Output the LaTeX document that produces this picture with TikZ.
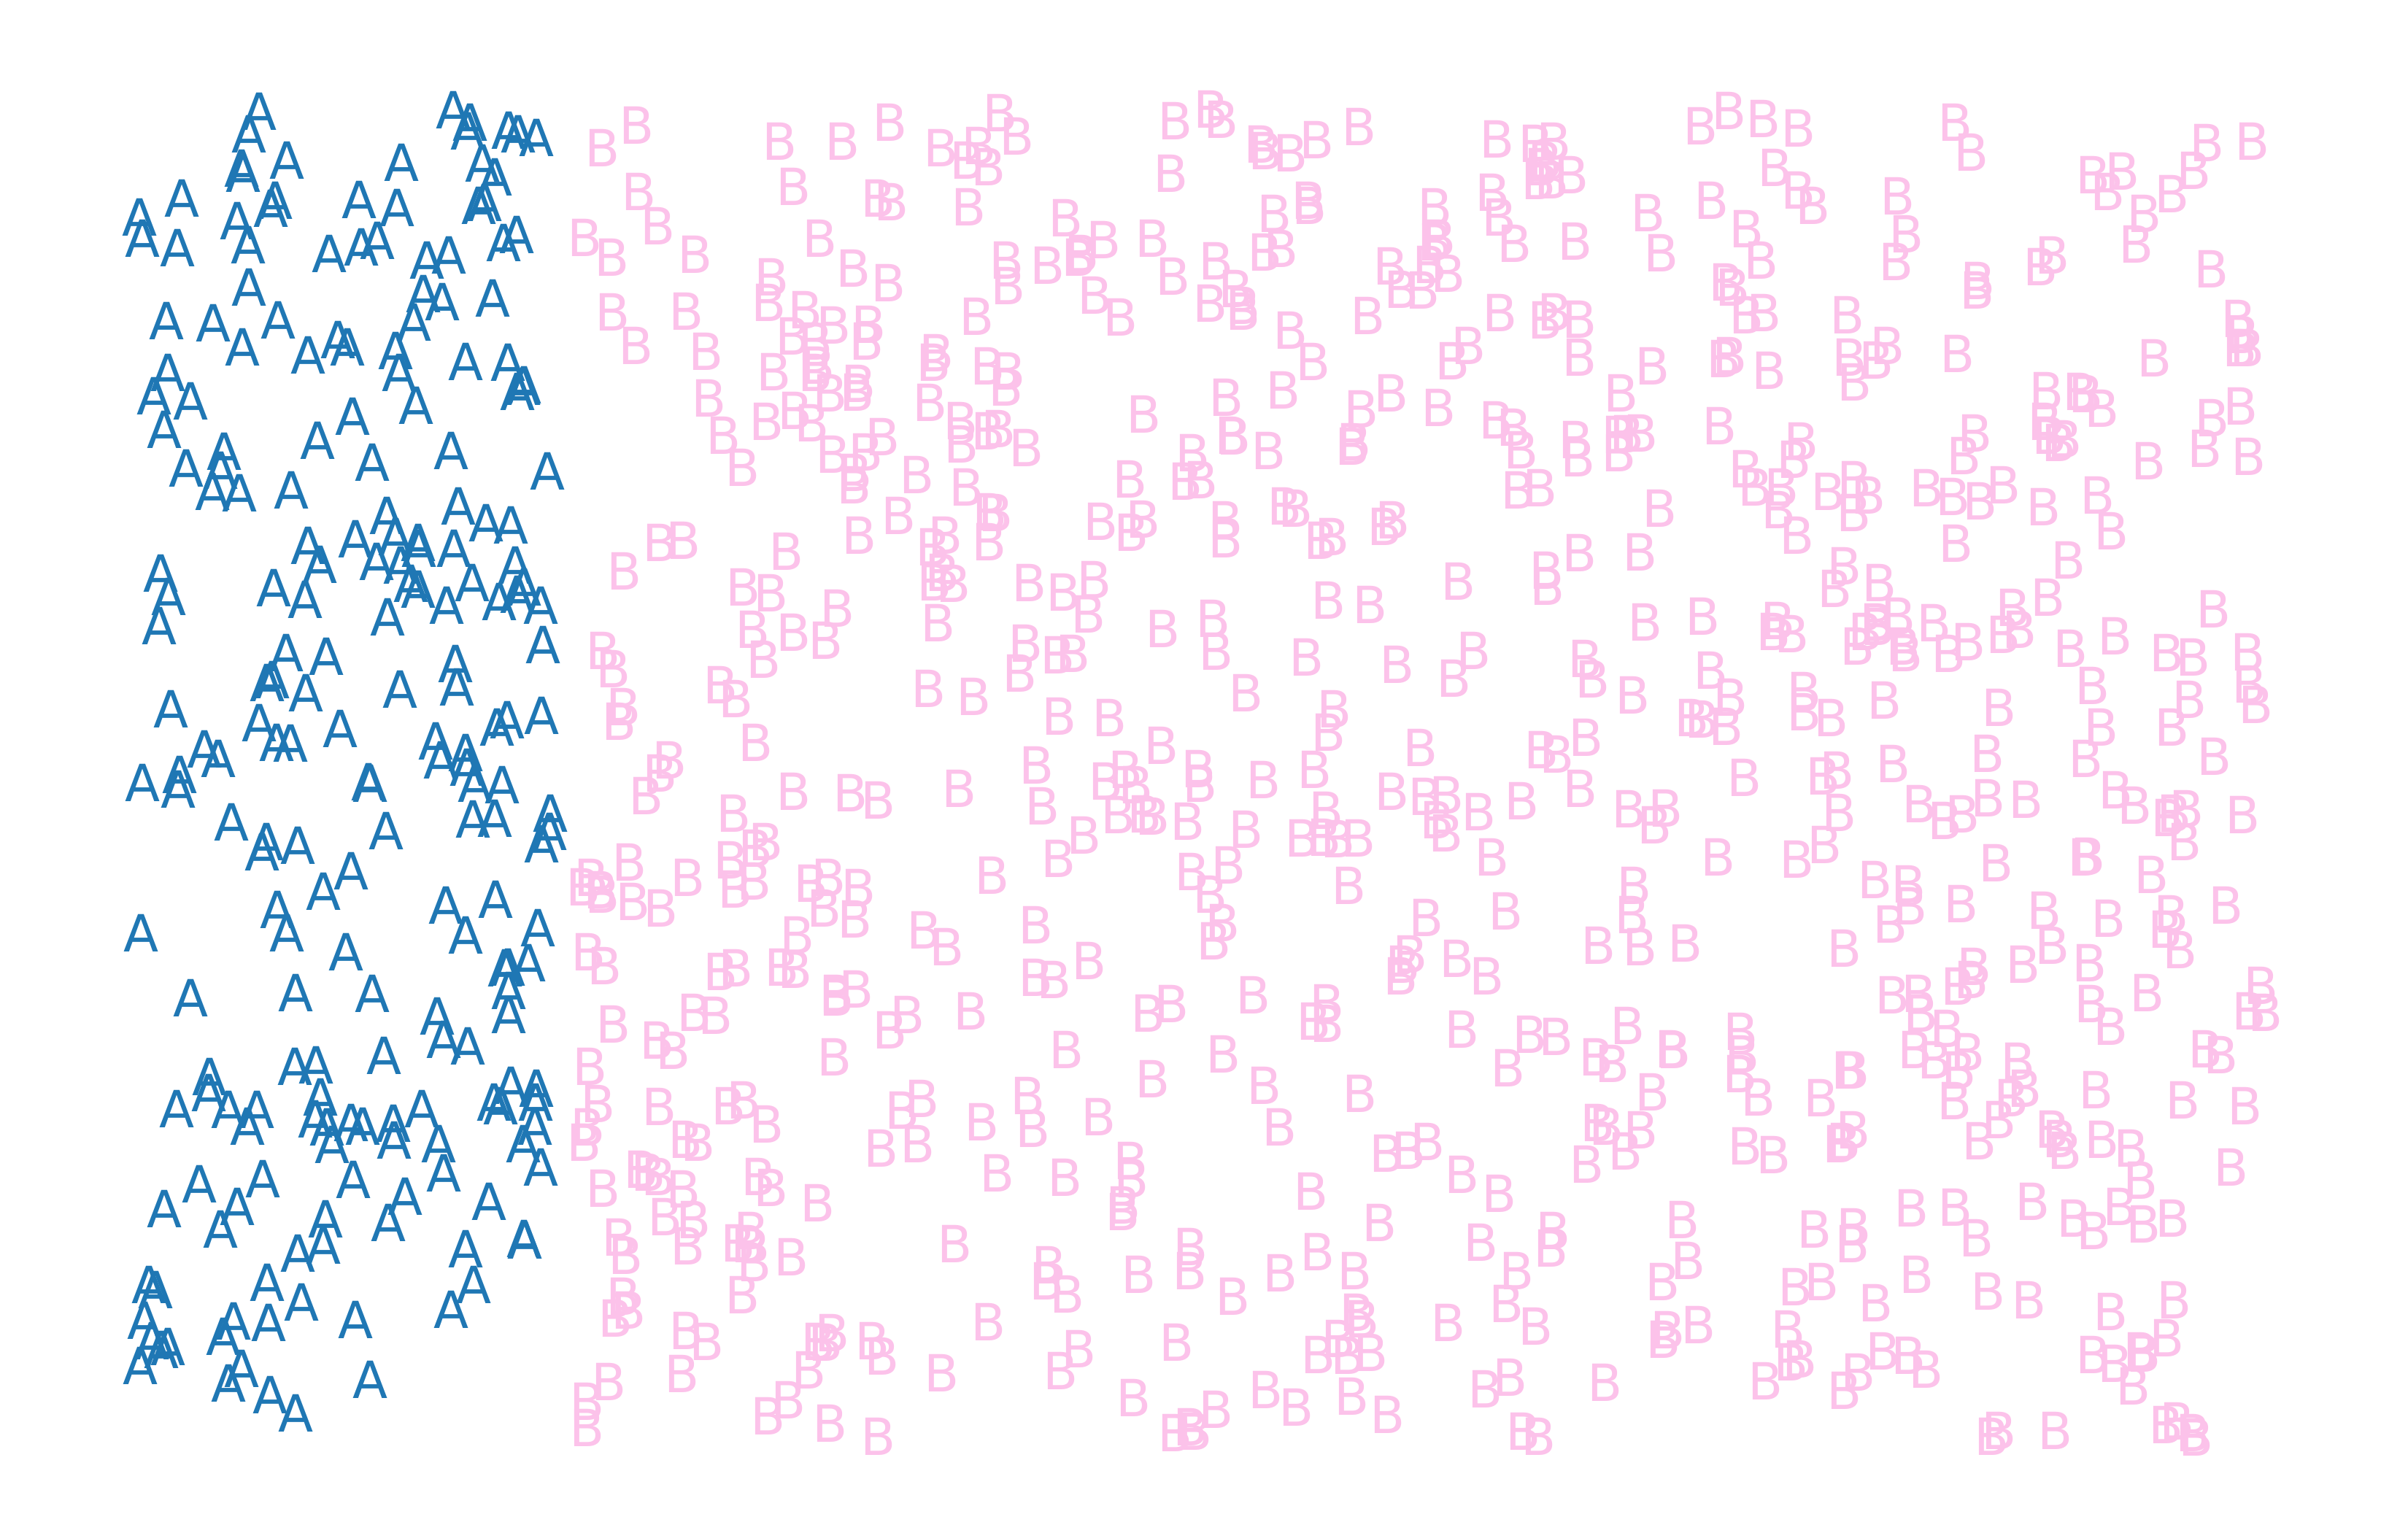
\documentclass[tikz,border=0pt]{standalone}
\usepackage{fontspec}
\setmainfont{DejaVu Sans}
\usepackage{tikz}
\definecolor{ablue}{HTML}{1F77B4}
\definecolor{bpink}{RGB}{252,194,234}

\begin{document}
\begin{tikzpicture}[x=1cm, y=1cm,
    lettA/.style = {text=ablue, font=\fontsize{20}{20}\selectfont, inner sep=0pt},
    lettB/.style = {text=bpink, font=\fontsize{20}{20}\selectfont, inner sep=0pt}]

    \useasboundingbox (0,0) rectangle (33,21);
    \pgfmathsetseed{4711}

    % class A, left band
    \foreach \i in {1,...,220} {
        \pgfmathsetmacro{\px}{1.9+5.65*rnd}
        \pgfmathsetmacro{\py}{1.6+17.9*rnd}
        \node[lettA] (a\i) at (\px,\py) {A};
    }

    % class B, the rest
    \foreach \i in {1,...,740} {
        \pgfmathsetmacro{\px}{7.85+23.2*rnd}
        \pgfmathsetmacro{\py}{1.3+18.2*rnd}
        \node[lettB] (b\i) at (\px,\py) {B};
    }
\end{tikzpicture}
\end{document}
